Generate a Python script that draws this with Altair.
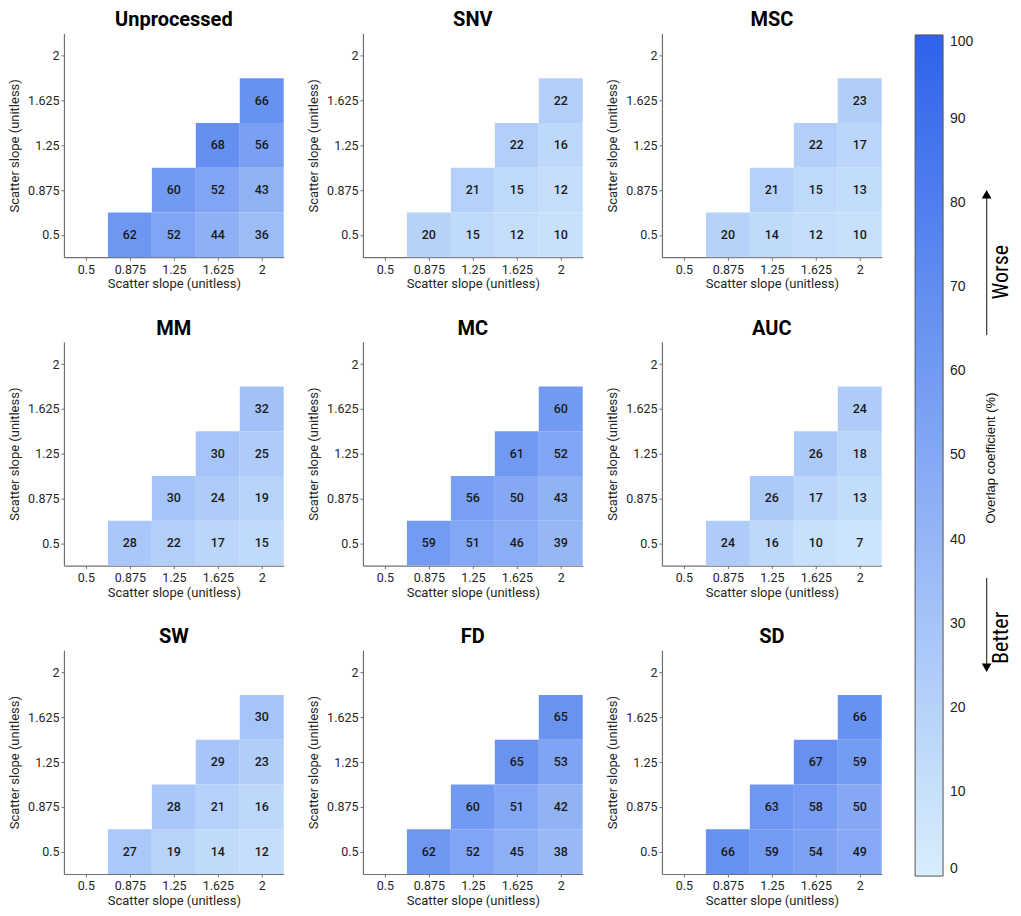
import altair as alt
import pandas as pd

# ---------------- data ----------------
methods = ["Unprocessed", "SNV", "MSC", "MM", "MC", "AUC", "SW", "FD", "SD"]
slope_ticks = [0.5, 0.875, 1.25, 1.625, 2]

# cell centres (upper triangle), x = scatter slope 1, y = scatter slope 2
cell_x = [0.875, 1.25, 1.625, 2, 1.25, 1.625, 2, 1.625, 2, 2]
cell_y = [0.5, 0.5, 0.5, 0.5, 0.875, 0.875, 0.875, 1.25, 1.25, 1.625]

unprocessed = [62, 52, 44, 36, 60, 52, 43, 68, 56, 66]
snv = [20, 15, 12, 10, 21, 15, 12, 22, 16, 22]
msc = [20, 14, 12, 10, 21, 15, 13, 22, 17, 23]
mm = [28, 22, 17, 15, 30, 24, 19, 30, 25, 32]
mc = [59, 51, 46, 39, 56, 50, 43, 61, 52, 60]
auc = [24, 16, 10, 7, 26, 17, 13, 26, 18, 24]
sw = [27, 19, 14, 12, 28, 21, 16, 29, 23, 30]
fd = [62, 52, 45, 38, 60, 51, 42, 65, 53, 65]
sd = [66, 59, 54, 49, 63, 58, 50, 67, 59, 66]

all_values = [unprocessed, snv, msc, mm, mc, auc, sw, fd, sd]

legend_ticks = [0, 10, 20, 30, 40, 50, 60, 70, 80, 90, 100]

# ---------------- style ----------------
W, H = 220, 224
HALF = 0.1875
FONT = "Roboto"
DOMAIN = [0.3125, 2.1875]

cscale = alt.Scale(domain=[0, 100], range=["#d8eefd", "#2f62eb"], interpolate="rgb")
legend = alt.Legend(
    orient="none", legendX=852, legendY=1.5, direction="vertical",
    gradientLength=842, gradientThickness=28, padding=0,
    gradientStrokeColor="#555555", gradientStrokeWidth=1,
    values=legend_ticks, labelOverlap=False, labelBaseline="middle",
    labelFont="Liberation Sans", labelFontSize=14, labelColor="#222222",
    labelOffset=7, title=None,
)

xaxis = alt.Axis(values=slope_ticks, title="Scatter slope (unitless)", labelExpr="datum.value + ''",
                 grid=False, labelPadding=3, titlePadding=2)
yaxis = alt.Axis(values=slope_ticks, title="Scatter slope (unitless)", labelExpr="datum.value + ''",
                 grid=False, labelPadding=2, titlePadding=6)
xs = alt.Scale(domain=DOMAIN, nice=False, zero=False)
ys = alt.Scale(domain=DOMAIN, nice=False, zero=False)

NARROW = "Liberation Sans Narrow, Roboto Condensed, Roboto"


def annotations():
    one = alt.Data(values=[{"k": 1}])
    ax = 325
    tx = 339
    layers = []
    layers.append(alt.Chart(one).mark_text(text="Overlap coefficient (%)", angle=270, font="Liberation Sans",
                                           fontSize=13, color="#111111", baseline="middle", align="center")
                  .encode(x=alt.value(329), y=alt.value(425)))
    # Worse arrow
    layers.append(alt.Chart(one).mark_rule(color="#444444", strokeWidth=1.3)
                  .encode(x=alt.value(ax), y=alt.value(302), y2=alt.value(160)))
    layers.append(alt.Chart(one).mark_point(shape="triangle-up", filled=True, size=95, color="#000000", opacity=1)
                  .encode(x=alt.value(ax), y=alt.value(161)))
    layers.append(alt.Chart(one).mark_text(text="Worse", angle=270, font=NARROW,
                                           fontSize=22, color="#000000", baseline="middle", align="center")
                  .encode(x=alt.value(tx), y=alt.value(239)))
    # Better arrow
    layers.append(alt.Chart(one).mark_rule(color="#444444", strokeWidth=1.3)
                  .encode(x=alt.value(ax), y=alt.value(545), y2=alt.value(636)))
    layers.append(alt.Chart(one).mark_point(shape="triangle-down", filled=True, size=95, color="#000000", opacity=1)
                  .encode(x=alt.value(ax), y=alt.value(635)))
    layers.append(alt.Chart(one).mark_text(text="Better", angle=270, font=NARROW,
                                           fontSize=22, color="#000000", baseline="middle", align="center")
                  .encode(x=alt.value(tx), y=alt.value(605)))
    return layers


def panel(name, values, extra=None):
    df = pd.DataFrame({"sx": cell_x, "sy": cell_y, "v": values})
    base = alt.Chart(df).transform_calculate(
        x0=f"datum.sx - {HALF}", x1=f"datum.sx + {HALF}",
        y0=f"datum.sy - {HALF}", y1=f"datum.sy + {HALF}",
    )
    rect = base.mark_rect().encode(
        x=alt.X("x0:Q", scale=xs, axis=xaxis),
        x2="x1:Q",
        y=alt.Y("y0:Q", scale=ys, axis=yaxis),
        y2="y1:Q",
        color=alt.Color("v:Q", scale=cscale, legend=legend),
    )
    text = base.mark_text(font=FONT, fontSize=12.5, fontWeight=500, color="#1a1a1a").encode(
        x=alt.X("sx:Q", scale=xs, axis=xaxis),
        y=alt.Y("sy:Q", scale=ys, axis=yaxis),
        text="v:Q",
    )
    layers = [rect, text] + (extra or [])
    return alt.layer(*layers).properties(
        width=W, height=H,
        title=alt.TitleParams(name, font=FONT, fontSize=20, fontWeight="bold", color="#000000",
                              anchor="middle", offset=3),
    )


panels = []
for i, (m, vals) in enumerate(zip(methods, all_values)):
    panels.append(panel(m, vals, annotations() if i == 2 else None))

chart = alt.concat(*panels, columns=3, bounds="flush",
                   spacing={"row": 84.7, "column": 79.3}).properties(
    padding={"left": 0, "top": 1, "right": 0, "bottom": 0},
).configure_view(stroke="transparent").configure_axis(
    labelFont=FONT, labelFontSize=12.5, labelColor="#262626",
    titleFont=FONT, titleFontSize=13, titleFontWeight="normal", titleColor="#262626",
    domainColor="#707070", domainWidth=1.2, tickColor="#707070", tickSize=3,
)

chart.save("out.html", embed_options={"renderer": "svg", "actions": False})
